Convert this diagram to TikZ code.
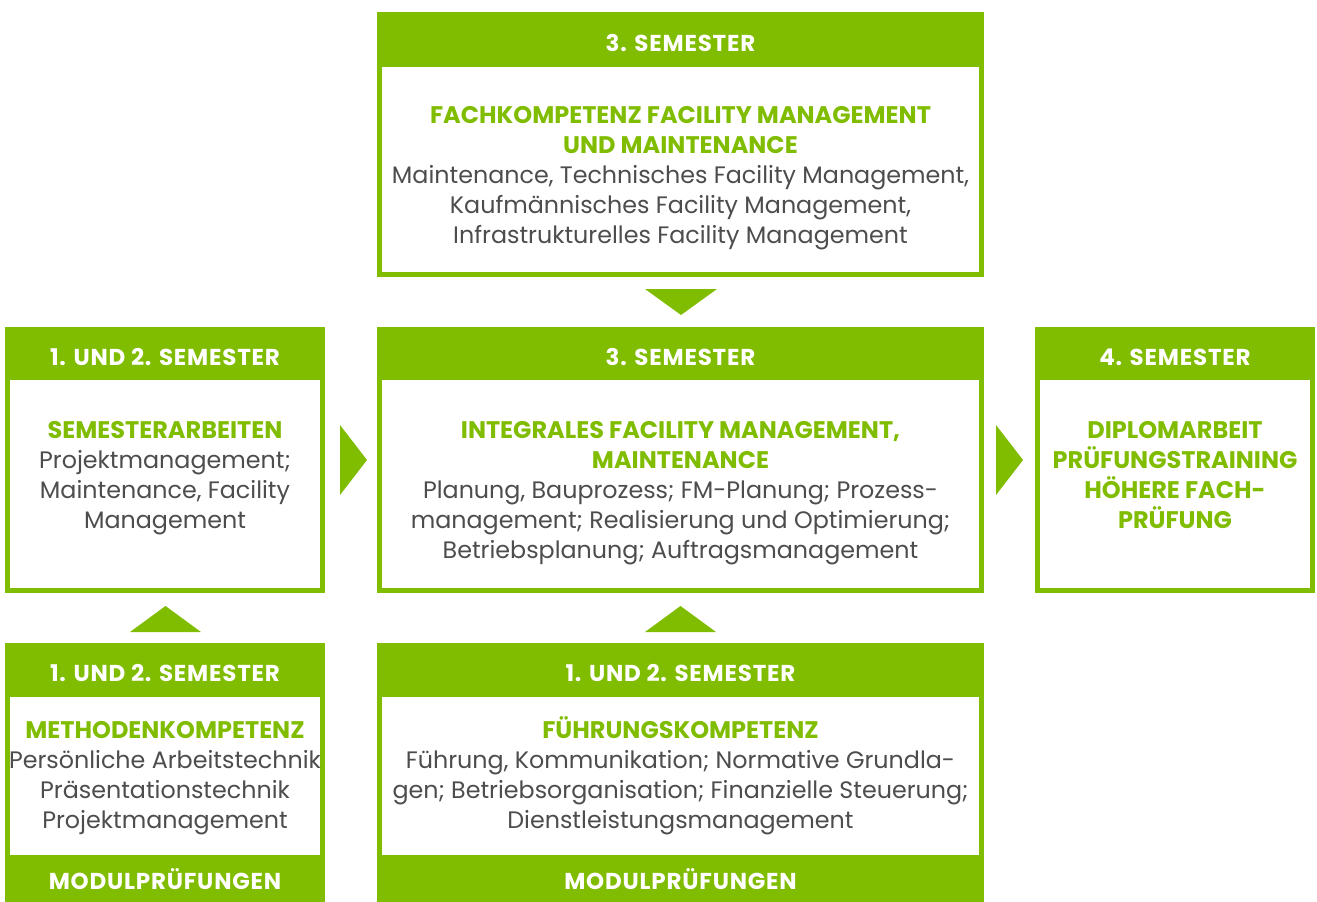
\documentclass[tikz,border=0pt]{standalone}
\usepackage{fontspec}
\setmainfont{Poppins}
\definecolor{fmgreen}{HTML}{80BC00}
\definecolor{fmgray}{HTML}{4D4D4D}
\tikzset{
  box/.style={draw=fmgreen, line width=5pt, fill=white, inner sep=0pt, outer sep=0pt, anchor=north west},
  head/.style={fill=fmgreen, inner sep=0pt, outer sep=0pt, anchor=north west, text=white, font=\fontsize{23}{24}\selectfont\bfseries\addfontfeatures{LetterSpace=3.5}},
  htext/.style={head, anchor=center, fill=none, yshift=-3.5pt},
  title/.style={text=fmgreen, font=\fontsize{24}{30}\selectfont\bfseries, align=center, inner sep=0pt, anchor=base},
  body/.style={text=fmgray, font=\fontsize{23.8}{30}\selectfont, align=center, inner sep=0pt, anchor=base},
  tri/.style={fill=fmgreen}
}
\begin{document}
\begin{tikzpicture}[x=1pt,y=-1pt]
\useasboundingbox (0,0) rectangle (1317,902);
% ---------- boxes ----------
\node[box, minimum width=602pt, minimum height=260pt] (top) at (379.5,14.5) {};
\node[head, minimum width=607pt, minimum height=55pt] (toph) at (377,12) {};
\node[box, minimum width=315pt, minimum height=261pt] (ml) at (7.5,329.5) {};
\node[head, minimum width=320pt, minimum height=53pt] (mlh) at (5,327) {};
\node[box, minimum width=602pt, minimum height=261pt] (mc) at (379.5,329.5) {};
\node[head, minimum width=607pt, minimum height=53pt] (mch) at (377,327) {};
\node[box, minimum width=275pt, minimum height=261pt] (mr) at (1037.5,329.5) {};
\node[head, minimum width=280pt, minimum height=53pt] (mrh) at (1035,327) {};
\node[box, minimum width=315pt, minimum height=262pt] (bl) at (7.5,645.5) {};
\node[head, minimum width=320pt, minimum height=54pt] (blh) at (5,643) {};
\node[head, minimum width=320pt, minimum height=50pt] (blf) at (5,855) {};
\node[box, minimum width=602pt, minimum height=262pt] (bc) at (379.5,645.5) {};
\node[head, minimum width=607pt, minimum height=54pt] (bch) at (377,643) {};
\node[head, minimum width=607pt, minimum height=50pt] (bcf) at (377,855) {};
% ---------- header texts ----------
\node[htext] (t1) at (toph.center) {3. SEMESTER};
\node[htext] (t2) at (mlh.center) {1. UND 2. SEMESTER};
\node[htext] (t3) at (mch.center) {3. SEMESTER};
\node[htext] (t4) at (mrh.center) {4. SEMESTER};
\node[htext] (t5) at (blh.center) {1. UND 2. SEMESTER};
\node[htext] (t6) at (bch.center) {1. UND 2. SEMESTER};
\node[htext, yshift=4pt] (t7) at (blf.center) {MODULPRÜFUNGEN};
\node[htext, yshift=4pt] (t8) at (bcf.center) {MODULPRÜFUNGEN};
% ---------- contents (anchor = baseline of last line) ----------
\node[title] (c1t) at (680.5,153) {FACHKOMPETENZ FACILITY MANAGEMENT\\UND MAINTENANCE};
\node[body] (c1b) at (680.5,243) {Maintenance, Technisches Facility Management,\\Kaufmännisches Facility Management,\\Infrastrukturelles Facility Management};
\node[title] (c2t) at (165,438) {SEMESTERARBEITEN};
\node[body] (c2b) at (165,528) {Projektmanagement;\\Maintenance, Facility\\Management};
\node[title] (c3t) at (680.5,468) {INTEGRALES FACILITY MANAGEMENT,\\MAINTENANCE};
\node[body] (c3b) at (680.5,558) {Planung, Bauprozess; FM-Planung; Prozess-\\management; Realisierung und Optimierung;\\Betriebsplanung; Auftragsmanagement};
\node[title] (c4t) at (1175,528) {DIPLOMARBEIT\\PRÜFUNGSTRAINING\\HÖHERE FACH-\\PRÜFUNG};
\node[title] (c5t) at (165,738) {METHODENKOMPETENZ};
\node[body] (c5b) at (165,828) {Persönliche Arbeitstechnik\\Präsentationstechnik\\Projektmanagement};
\node[title] (c6t) at (680.5,738) {FÜHRUNGSKOMPETENZ};
\node[body] (c6b) at (680.5,828) {Führung, Kommunikation; Normative Grundla-\\gen; Betriebsorganisation; Finanzielle Steuerung;\\Dienstleistungsmanagement};
% ---------- connectors (triangles) ----------
\fill[tri] (645,289) -- (717,289) -- (681,315) -- cycle;
\fill[tri] (340,425) -- (340,495) -- (367,460) -- cycle;
\fill[tri] (996,425) -- (996,495) -- (1023,460) -- cycle;
\fill[tri] (130,632) -- (201,632) -- (165.5,606) -- cycle;
\fill[tri] (645,632) -- (716,632) -- (680.5,606) -- cycle;
\end{tikzpicture}
\end{document}
